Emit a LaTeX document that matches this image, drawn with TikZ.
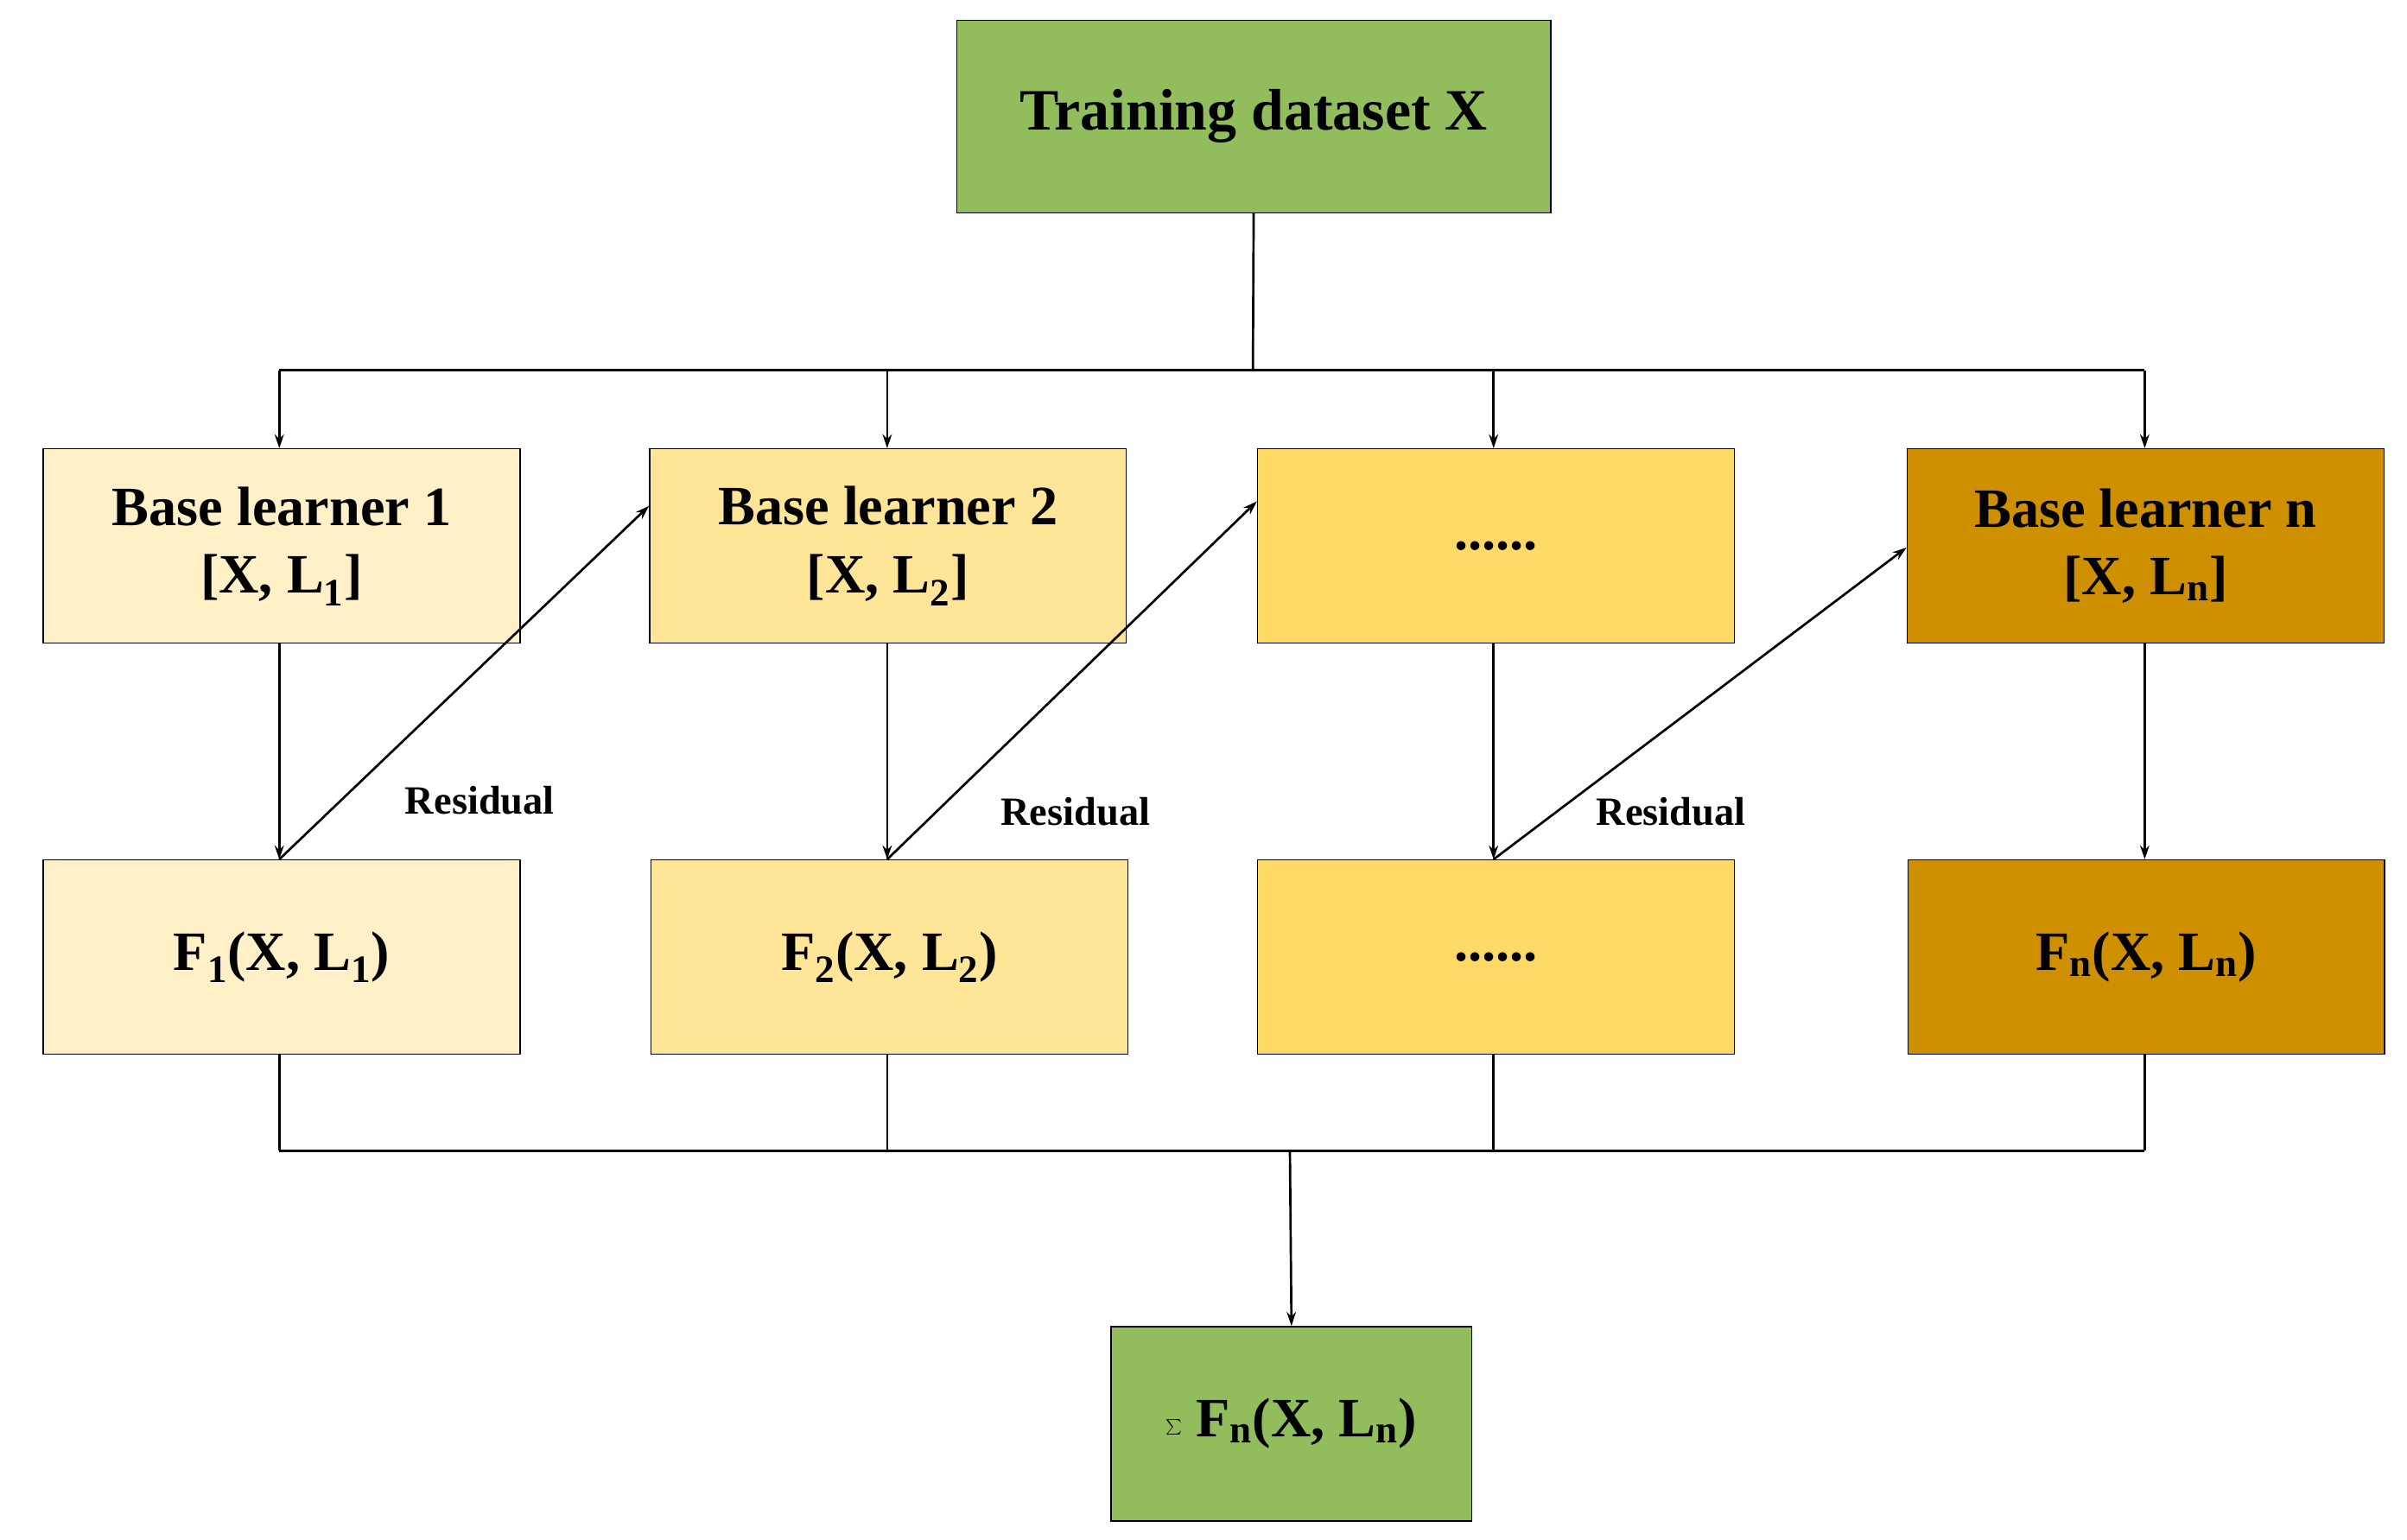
\documentclass[tikz,border=0pt]{standalone}
\usepackage{fontspec}
\setmainfont{Liberation Serif}
\usetikzlibrary{arrows.meta}
\definecolor{gr}{HTML}{92BD5C}
\definecolor{c1}{HTML}{FFF0C8}
\definecolor{c2}{HTML}{FFE597}
\definecolor{c3}{HTML}{FFD966}
\definecolor{c4}{HTML}{CF9000}
\begin{document}
\begin{tikzpicture}[x=1pt,y=-1pt,
 box/.style={draw=black,line width=0.8pt,minimum width=309pt,minimum height=126pt,inner sep=0pt,align=center,font=\fontsize{36}{40}\selectfont\bfseries},
 ln/.style={line width=1.5pt},
 arr/.style={ln,-{Stealth[length=9pt,width=6pt]}},
 lab/.style={font=\fontsize{26}{30}\selectfont\bfseries}]
\useasboundingbox (0,0) rectangle (1560,998);
\node[box,fill=gr,minimum width=385pt,minimum height=125pt] (t) at (812.5,75.5) {\fontsize{38}{42}\selectfont Training dataset X};
\node[box,fill=c1] (b1) at (182.5,354) {Base learner 1\\[4pt][X, L\textsubscript{1}]};
\node[box,fill=c2] (b2) at (575.5,354) {Base learner 2\\[4pt][X, L\textsubscript{2}]};
\node[box,fill=c3] (b3) at (969.5,354) {......};
\node[box,fill=c4] (b4) at (1390.5,354) {Base learner n\\[4pt][X, L\textsubscript{n}]};
\node[box,fill=c1] (f1) at (182.5,620.5) {F\textsubscript{1}(X, L\textsubscript{1})};
\node[box,fill=c2] (f2) at (576.5,620.5) {F\textsubscript{2}(X, L\textsubscript{2})};
\node[box,fill=c3] (f3) at (969.5,620.5) {......};
\node[box,fill=c4] (f4) at (1391,620.5) {F\textsubscript{n}(X, L\textsubscript{n})};
\node[box,fill=gr,minimum width=234pt] (s) at (837,923) {$\sum$ F\textsubscript{n}(X, L\textsubscript{n})};
\coordinate (h) at (812,240);
\draw[ln] (t.south) -- (h);
\draw[ln] (181,240) -- (1390,240);
\foreach \b/\x in {b1/181,b2/575,b3/968,b4/1390}{\draw[arr] (\x,240) -- (\b.north -| \x,0);}
\foreach \b/\f/\x in {b1/f1/181,b2/f2/575,b3/f3/968,b4/f4/1390}{
 \draw[arr] (\b.south -| \x,0) -- (\f.north -| \x,0);
 \draw[ln] (\f.south -| \x,0) -- (\x,746);}
\draw[ln] (181,746) -- (1390,746);
\draw[arr] (836,746) -- (s.north);
\draw[arr] (f1.north -| 181,0) -- ([yshift=26pt]b2.west);
\draw[arr] (f2.north -| 575,0) -- ([yshift=29pt]b3.west);
\draw[arr] (f3.north -| 968,0) -- ([yshift=-1pt]b4.west);
\node[lab] (r1) at (311,519) {Residual};
\node[lab] (r2) at (697,526) {Residual};
\node[lab] (r3) at (1083,526) {Residual};
\end{tikzpicture}
\end{document}
